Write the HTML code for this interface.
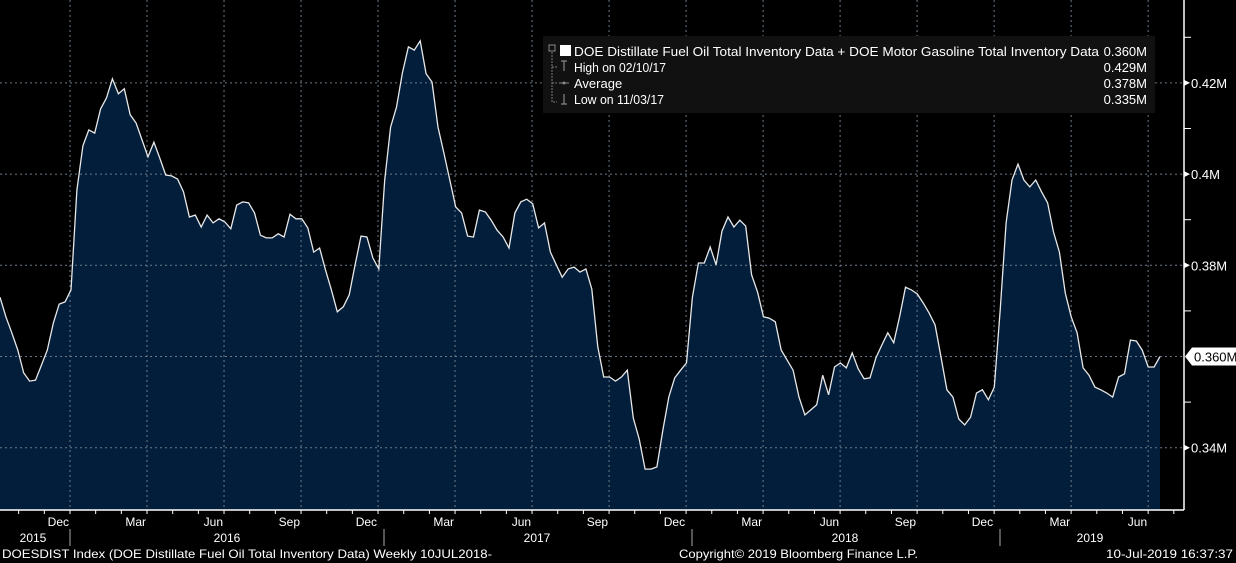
<!DOCTYPE html>
<html><head><meta charset="utf-8"><style>
html,body{margin:0;padding:0;background:#000;}
svg{display:block;font-family:"Liberation Sans",sans-serif;}
</style></head><body>
<svg id="chart" width="1236" height="563" viewBox="0 0 1236 563" xmlns="http://www.w3.org/2000/svg">
<rect x="0" y="0" width="1236" height="563" fill="#000"/>
<g id="grid"></g>
<g id="series"></g>
<g id="axes"></g>
<g id="legend">
<rect x="543" y="36" width="612" height="77" fill="#111"/>
<rect x="549" y="45" width="6" height="6" fill="none" stroke="#888" stroke-width="1"/>
<rect x="560" y="45" width="11" height="11" fill="#fff"/>
<path d="M552 52 V102 H557 M552 67 H557 M552 83 H557" stroke="#777" fill="none" stroke-width="1" stroke-dasharray="2,1"/>
<path d="M561 61 H567 M564 61 V71" stroke="#888" stroke-width="1.2"/>
<circle cx="564" cy="83" r="1.5" fill="#888"/><path d="M559 83 H569" stroke="#888"/>
<path d="M564 94 V104 M561 104 H567" stroke="#888" stroke-width="1.2"/>
<g font-size="13" fill="#fff">
<text x="574" y="56" textLength="525" lengthAdjust="spacingAndGlyphs">DOE Distillate Fuel Oil Total Inventory Data + DOE Motor Gasoline Total Inventory Data</text>
<text x="1147" y="56" text-anchor="end">0.360M</text>
<text x="574" y="72" textLength="92" lengthAdjust="spacingAndGlyphs">High on 02/10/17</text>
<text x="1147" y="72" text-anchor="end">0.429M</text>
<text x="574" y="88">Average</text>
<text x="1147" y="88" text-anchor="end">0.378M</text>
<text x="574" y="104" textLength="90" lengthAdjust="spacingAndGlyphs">Low on 11/03/17</text>
<text x="1147" y="104" text-anchor="end">0.335M</text>
</g>
</g>
<g font-size="12" fill="#fff">
<text x="2" y="558" textLength="490" lengthAdjust="spacingAndGlyphs">DOESDIST Index (DOE Distillate Fuel Oil Total Inventory Data)  Weekly 10JUL2018-</text>
<text x="679" y="558" textLength="239" lengthAdjust="spacingAndGlyphs">Copyright© 2019 Bloomberg Finance L.P.</text>
<text x="1106" y="558" textLength="127" lengthAdjust="spacingAndGlyphs">10-Jul-2019 16:37:37</text>
</g>
</svg>
<script>
// weekly values in thousandths of a million (e.g. 373.0 => 0.373M)
const seriesValues = [373.0,368.7,365.2,361.4,356.4,354.6,354.8,358.1,361.4,367.3,371.5,372.0,374.6,396.5,406.2,409.7,409.0,414.3,416.7,420.9,417.6,418.7,413.0,411.2,407.5,403.8,407.0,403.5,399.8,399.6,398.9,396.1,390.6,391.0,388.4,391.0,389.3,390.2,389.5,388.0,393.2,393.9,393.7,391.5,386.6,386.0,386.0,386.9,386.2,391.2,390.2,390.2,388.2,382.9,383.8,379.0,374.6,369.8,370.9,373.5,380.1,386.4,386.2,381.6,379.2,398.7,410.3,414.7,422.2,427.9,427.2,429.2,422.0,420.2,410.3,404.6,398.7,392.8,391.5,386.4,386.2,392.1,391.7,389.9,387.7,386.2,383.8,391.5,393.9,394.5,393.5,388.2,389.3,382.9,380.1,377.4,379.2,379.6,378.5,379.2,374.8,362.1,355.5,355.5,354.6,355.5,357.0,346.5,341.9,335.3,335.3,335.8,343.9,351.1,355.3,357.0,358.6,373.0,380.5,380.5,384.0,380.1,387.5,390.6,388.4,389.9,388.6,377.9,374.1,368.7,368.4,367.6,361.4,359.2,357.0,351.1,347.2,348.3,349.4,355.9,351.6,357.7,358.6,357.5,360.8,357.3,355.1,355.3,359.7,362.5,365.2,363.0,368.7,375.2,374.6,373.7,371.7,369.5,366.9,359.9,352.7,351.1,346.3,345.0,346.7,352.0,352.7,350.5,353.3,370.2,389.3,398.7,402.2,398.7,397.2,398.7,396.1,393.7,387.3,382.9,373.9,368.7,365.2,357.5,355.9,353.3,352.7,352.0,351.1,355.5,356.2,363.6,363.4,361.4,357.7,357.7,360.0];
const yTickValues = [0.34,0.36,0.38,0.40,0.42];
const yTickLabels = ["0.34M","","0.38M","0.4M","0.42M"];
const monthLabels = ["Dec","Mar","Jun","Sep","Dec","Mar","Jun","Sep","Dec","Mar","Jun","Sep","Dec","Mar","Jun"];
const yearLabels = ["2015","2016","2017","2018","2019"];
const lastValueLabel = "0.360M";

const NS="http://www.w3.org/2000/svg";
const PL=0,PR=1184,PB=510;
const X0=0,X1=1160;
function yScale(v){return 356.5-(v-0.36)*4560;}
function xScale(i){return X0+i*(X1-X0)/(seriesValues.length-1);}
function mk(tag,attrs,parent){const e=document.createElementNS(NS,tag);for(const k in attrs)e.setAttribute(k,attrs[k]);parent.appendChild(e);return e;}
const grid=document.getElementById('grid'),series=document.getElementById('series'),axes=document.getElementById('axes');

const monthW=25.67, firstQ=70;
for(let q=0;q<monthLabels.length;q++){
  const gx=firstQ+q*3*monthW;
  const l=mk('line',{x1:gx,x2:gx,y1:0,y2:PB,stroke:'#6c7a8a','stroke-width':1,'stroke-dasharray':'2,3'},grid);
  
  
  const t=mk('text',{x:gx-1,y:526,'text-anchor':'end','font-size':12,fill:'#fff'},axes);
  t.textContent=monthLabels[q];
  
  
}
yTickValues.forEach((v,i)=>{
  const gy=yScale(v);
  const l=mk('line',{x1:0,x2:PR,y1:gy,y2:gy,stroke:'#6c7a8a','stroke-width':1,'stroke-dasharray':'2,3'},grid);
  
  
  if(yTickLabels[i]){
    mk('path',{d:`M${PR} ${gy-3} L${PR+6} ${gy} L${PR} ${gy+3}Z`,fill:'#fff'},axes);
    const t=mk('text',{x:PR+7,y:gy+5,'font-size':13,fill:'#fff'},axes);
    t.textContent=yTickLabels[i];
    
    
  }
  const mt=mk('line',{x1:PR,x2:PR+7,y1:yScale(v+0.01),y2:yScale(v+0.01),stroke:'#fff'},axes);
  
  
});
let d=`M${xScale(0)} ${PB}`;
seriesValues.forEach((v,i)=>{d+=` L${xScale(i).toFixed(1)} ${yScale(v/1000).toFixed(1)}`;});
const lineD=d.replace(`M${xScale(0)} ${PB} L`,'M');
d+=` L${xScale(seriesValues.length-1)} ${PB} Z`;
const area=mk('path',{d:d,fill:'#021e3b'},series);


grid.parentNode.insertBefore(series,grid);
const line=mk('path',{d:lineD,fill:'none',stroke:'#e8e8e8','stroke-width':1.3},document.getElementById('chart'));


const chart=document.getElementById('chart');
chart.insertBefore(line,document.getElementById('legend'));
const ax=mk('line',{x1:0,x2:PR,y1:PB,y2:PB,stroke:'#fff','stroke-width':1.5},axes);


const ay=mk('line',{x1:PR,x2:PR,y1:0,y2:PB,stroke:'#fff','stroke-width':1.5},axes);


for(let m=-2;m<45;m++){
  const tx=firstQ+m*monthW;
  if(tx<0||tx>PR)continue;
  const tk=mk('line',{x1:tx,x2:tx,y1:PB,y2:PB+4,stroke:'#fff'},axes);
  
  
}
const yearCenters=[33,227,537,845,1090];
const yearSeps=[70,384,692,1000];
yearLabels.forEach((y,i)=>{
  const t=mk('text',{x:yearCenters[i],y:542,'text-anchor':'middle','font-size':12,fill:'#fff'},axes);
  t.textContent=y;
  
  
});
yearSeps.forEach(s=>{
  const l=mk('line',{x1:s,x2:s,y1:529,y2:546,stroke:'#aaa'},axes);
  
  
});
const lv=seriesValues[seriesValues.length-1]/1000, ly=yScale(lv);
const tag=mk('path',{d:`M${PR+1} ${ly} L${PR+8} ${ly-9} H1236 V${ly+9} H${PR+8} Z`,fill:'#fff'},axes);


const lt=mk('text',{x:PR+10,y:ly+5,'font-size':13,fill:'#000'},axes);
lt.textContent=lastValueLabel;


</script>
</body></html>
